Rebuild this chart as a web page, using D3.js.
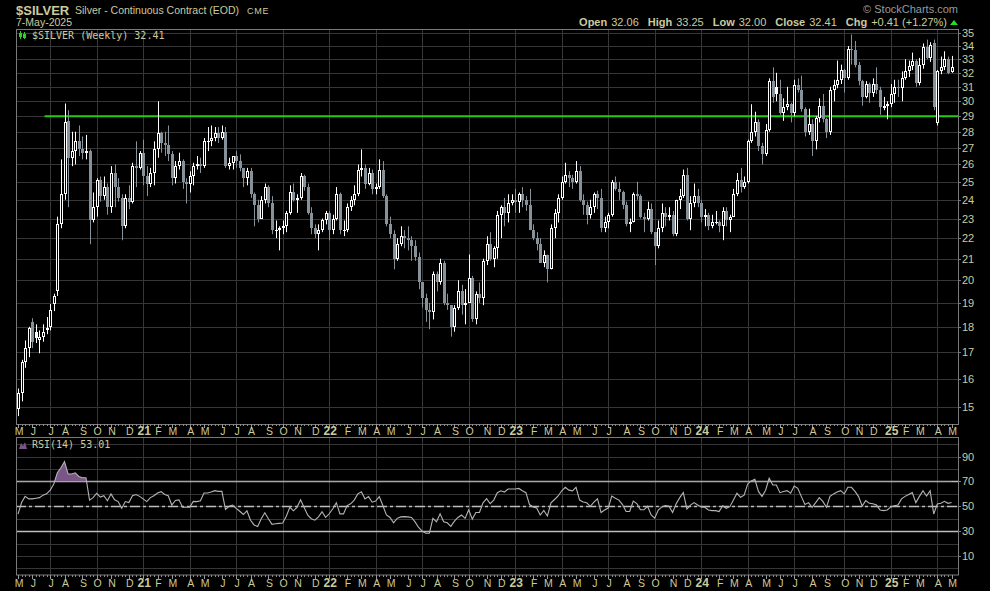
<!DOCTYPE html>
<html>
<head>
<meta charset="utf-8">
<script src="https://cdn.jsdelivr.net/npm/d3@7"></script>
<style>
  body { margin: 0; background: #000; }
  svg { display: block; }
  text { font-family: "Liberation Sans", Arial, sans-serif; }
</style>
</head>
<body>
<div id="chart"></div>
<script>
// weekly bars, one per week (Monday dated), May 2020 -> May 2025
var firstWeek = new Date(2020, 4, 4);
var lastWeek = new Date(2025, 4, 5);

var opens = [
  14.95, 15.50, 16.60, 17.15, 18.20, 17.80, 17.45, 17.60, 17.85, 18.00,
  18.95, 19.50, 22.70, 24.30, 28.70, 26.40, 26.80, 27.40, 26.90, 26.70,
  26.80, 22.90, 23.60, 25.10, 24.20, 24.70, 23.60, 25.50, 24.70, 24.10,
  22.60, 24.10, 23.90, 25.90, 25.80, 26.70, 25.30, 24.90, 25.50, 26.90,
  27.90, 27.30, 27.20, 26.60, 25.20, 25.90, 26.20, 25.00, 24.90, 25.30,
  25.90, 26.00, 25.90, 27.40, 27.40, 27.60, 27.90, 27.60, 28.00, 25.90,
  26.10, 26.50, 26.20, 25.80, 25.20, 25.60, 24.30, 23.70, 23.00, 24.00,
  24.70, 23.80, 22.40, 22.40, 22.50, 22.60, 23.30, 24.40, 24.00, 24.10,
  25.30, 24.70, 23.30, 22.50, 22.20, 22.40, 22.90, 23.30, 22.40, 23.00,
  24.30, 22.40, 22.40, 23.60, 24.00, 24.30, 25.70, 25.80, 24.90, 25.50,
  24.60, 24.70, 25.70, 24.20, 22.70, 22.20, 21.00, 21.70, 22.10, 22.00,
  21.90, 21.60, 21.10, 19.90, 19.20, 18.70, 18.60, 20.30, 19.90, 20.80,
  19.00, 18.90, 18.00, 18.80, 19.50, 18.90, 19.00, 20.10, 18.30, 19.40,
  19.20, 20.90, 21.70, 21.00, 21.50, 23.20, 23.60, 23.30, 23.80, 24.00,
  23.90, 24.30, 24.00, 23.70, 22.40, 22.00, 21.70, 20.80, 21.20, 20.50,
  22.50, 23.30, 24.10, 25.00, 25.40, 25.20, 25.00, 25.60, 24.00, 23.70,
  23.20, 23.60, 24.30, 24.10, 22.50, 22.80, 23.20, 25.00, 24.60, 24.40,
  23.70, 22.70, 22.80, 24.30, 24.20, 23.10, 23.00, 23.50, 22.30, 21.60,
  22.50, 23.30, 23.10, 23.20, 22.20, 24.00, 24.20, 25.40, 23.00, 23.80,
  24.20, 23.80, 23.10, 23.20, 22.60, 22.80, 22.80, 22.60, 23.40, 22.90,
  23.10, 24.30, 25.10, 24.70, 25.00, 27.40, 28.00, 28.60, 27.10, 26.60,
  28.10, 31.40, 31.00, 30.50, 29.20, 29.60, 29.80, 29.20, 31.10, 30.80,
  29.50, 28.00, 28.50, 27.40, 28.90, 29.70, 28.80, 28.00, 30.80, 31.10,
  31.50, 32.20, 31.60, 33.80, 33.70, 32.60, 31.40, 30.30, 31.20, 30.60,
  31.20, 30.80, 29.60, 29.70, 29.80, 30.50, 31.00, 30.90, 31.60, 32.10,
  32.50, 32.90, 31.30, 32.60, 33.90, 33.10, 34.20, 28.55, 32.10, 32.40,
  33.00, 32.06
];
var highs = [
  15.65, 16.70, 17.45, 18.00, 18.35, 18.10, 17.85, 18.10, 18.40, 18.95,
  19.40, 23.10, 26.30, 29.85, 29.40, 28.00, 28.00, 28.40, 27.70, 27.80,
  26.90, 24.40, 25.20, 25.30, 25.30, 24.90, 25.90, 26.00, 25.20, 24.30,
  24.30, 24.80, 26.10, 27.40, 26.80, 27.50, 25.90, 25.80, 27.40, 30.00,
  28.00, 28.00, 28.40, 26.80, 26.20, 26.70, 26.30, 25.20, 25.60, 26.10,
  26.50, 26.40, 27.60, 28.30, 28.40, 28.30, 28.30, 28.40, 28.30, 26.40,
  26.50, 26.80, 26.60, 25.80, 25.80, 25.80, 24.40, 24.00, 24.20, 24.90,
  24.80, 24.20, 22.90, 22.60, 22.90, 23.40, 24.80, 24.90, 24.30, 25.50,
  25.40, 24.90, 23.60, 22.70, 22.70, 23.00, 23.40, 23.40, 23.20, 24.70,
  24.40, 22.90, 23.80, 24.20, 24.80, 26.00, 26.90, 26.00, 25.80, 25.70,
  24.90, 26.30, 26.20, 24.30, 23.10, 22.40, 22.00, 22.60, 22.40, 22.60,
  22.10, 21.90, 21.30, 19.90, 19.40, 19.00, 20.40, 20.40, 21.00, 20.90,
  19.40, 18.90, 18.90, 20.00, 19.80, 19.60, 21.20, 20.20, 19.50, 19.90,
  21.00, 22.10, 22.30, 21.60, 23.40, 23.70, 24.10, 24.30, 24.30, 24.60,
  24.40, 24.70, 24.20, 24.60, 22.70, 22.30, 22.00, 21.40, 21.20, 22.70,
  23.50, 24.30, 25.30, 26.10, 25.60, 25.40, 26.20, 25.90, 24.30, 23.90,
  24.00, 24.40, 24.50, 24.60, 23.10, 23.30, 25.10, 25.30, 25.00, 24.50,
  23.90, 23.00, 24.40, 25.00, 24.30, 23.30, 23.90, 23.80, 22.30, 22.90,
  23.80, 23.60, 23.60, 23.40, 24.00, 24.60, 25.70, 25.80, 24.20, 24.90,
  24.60, 24.00, 23.50, 23.30, 23.20, 23.40, 22.90, 23.60, 23.60, 23.20,
  24.60, 25.50, 25.80, 25.30, 27.50, 29.80, 29.30, 28.80, 27.30, 28.50,
  31.60, 32.40, 32.00, 31.50, 30.20, 31.00, 29.90, 31.50, 31.60, 31.80,
  29.60, 29.50, 28.80, 29.00, 30.20, 30.50, 28.90, 31.00, 31.50, 32.90,
  32.60, 32.30, 34.00, 34.90, 34.40, 32.80, 31.50, 31.40, 31.30, 31.60,
  32.40, 31.00, 30.30, 30.00, 31.20, 31.50, 31.50, 32.10, 33.00, 32.90,
  33.50, 33.00, 33.10, 34.20, 34.50, 34.30, 34.50, 32.20, 33.20, 33.60,
  33.20, 33.25
];
var lows = [
  14.70, 15.20, 16.40, 16.80, 17.15, 17.35, 16.95, 17.40, 17.70, 17.85,
  18.65, 19.30, 22.50, 24.00, 23.60, 25.90, 26.00, 26.50, 26.30, 26.30,
  21.70, 22.80, 23.10, 23.90, 24.00, 23.20, 23.30, 23.60, 23.90, 21.90,
  22.50, 23.50, 23.80, 24.70, 25.70, 24.80, 24.20, 24.70, 24.80, 26.40,
  26.70, 26.50, 26.20, 24.80, 24.90, 25.70, 24.60, 23.80, 24.40, 24.80,
  25.70, 25.50, 25.80, 26.80, 27.10, 27.40, 27.30, 27.50, 25.80, 25.70,
  25.70, 25.80, 25.60, 24.70, 24.80, 24.10, 22.60, 22.80, 23.00, 23.80,
  23.60, 22.20, 22.00, 21.40, 22.20, 22.30, 23.20, 23.90, 23.30, 24.00,
  24.50, 23.20, 22.20, 22.00, 21.40, 22.30, 22.70, 21.90, 22.20, 22.90,
  22.20, 22.10, 22.30, 23.40, 23.70, 24.20, 25.30, 24.60, 24.80, 24.30,
  24.30, 24.60, 24.10, 22.60, 22.00, 20.50, 20.90, 21.60, 21.50, 21.40,
  20.90, 20.90, 19.60, 18.80, 18.20, 17.90, 18.30, 19.50, 19.80, 18.90,
  18.70, 17.60, 17.80, 18.70, 18.50, 18.10, 19.00, 18.20, 18.10, 19.00,
  18.90, 20.70, 20.90, 20.60, 21.00, 22.00, 22.60, 22.80, 23.70, 23.30,
  23.30, 23.60, 23.40, 22.40, 21.90, 21.40, 20.80, 20.60, 19.90, 20.50,
  22.00, 22.80, 24.00, 24.90, 24.70, 24.60, 24.90, 23.90, 23.20, 22.70,
  23.00, 23.30, 23.50, 22.30, 22.30, 22.50, 23.10, 24.50, 24.00, 23.50,
  22.60, 22.30, 22.80, 24.00, 23.00, 22.30, 22.90, 22.20, 20.70, 21.50,
  22.30, 22.60, 22.90, 22.10, 22.10, 23.50, 24.10, 22.90, 22.40, 23.60,
  23.60, 22.80, 22.60, 22.40, 22.50, 22.70, 22.30, 21.90, 22.60, 22.30,
  23.10, 24.20, 24.40, 24.60, 24.90, 27.30, 27.70, 26.80, 26.00, 26.50,
  28.00, 29.90, 30.00, 29.10, 28.70, 29.40, 28.60, 29.00, 30.60, 29.30,
  27.70, 27.80, 26.50, 26.90, 28.60, 28.60, 27.60, 27.80, 30.00, 30.90,
  31.20, 30.60, 31.50, 32.60, 32.40, 31.10, 29.70, 30.20, 29.90, 30.30,
  30.50, 29.10, 29.40, 28.80, 29.60, 29.90, 30.30, 30.00, 31.50, 31.70,
  32.20, 31.00, 31.10, 32.30, 33.00, 32.80, 29.40, 28.40, 31.90, 32.20,
  31.90, 32.00
];
var closes = [
  15.50, 16.60, 17.15, 17.95, 17.40, 17.55, 17.60, 17.80, 17.95, 18.70,
  19.30, 22.70, 24.30, 28.60, 26.40, 26.80, 27.40, 26.90, 26.70, 26.80,
  22.90, 23.60, 25.10, 24.20, 24.70, 23.60, 25.50, 24.70, 24.10, 22.60,
  24.10, 23.90, 25.90, 25.80, 26.70, 25.30, 24.90, 25.50, 26.90, 27.90,
  27.30, 27.20, 26.60, 25.20, 25.90, 26.20, 25.00, 24.90, 25.30, 25.90,
  26.00, 25.90, 27.40, 27.40, 27.60, 27.90, 27.60, 28.00, 25.90, 26.10,
  26.50, 26.20, 25.80, 25.20, 25.60, 24.30, 23.70, 23.00, 24.00, 24.70,
  23.80, 22.40, 22.40, 22.50, 22.60, 23.30, 24.40, 24.00, 24.10, 25.30,
  24.70, 23.30, 22.50, 22.20, 22.40, 22.90, 23.30, 22.40, 23.00, 24.30,
  22.40, 22.40, 23.60, 24.00, 24.30, 25.70, 25.80, 24.90, 25.50, 24.60,
  24.70, 25.70, 24.20, 22.70, 22.20, 21.00, 21.70, 22.10, 22.00, 21.90,
  21.60, 21.10, 19.90, 19.20, 18.70, 18.60, 20.30, 19.90, 20.80, 19.00,
  18.90, 18.00, 18.80, 19.50, 18.90, 19.00, 20.10, 18.30, 19.40, 19.20,
  20.90, 21.70, 21.00, 21.50, 23.20, 23.60, 23.30, 23.80, 24.00, 23.90,
  24.30, 24.00, 23.70, 22.40, 22.00, 21.70, 20.80, 21.20, 20.50, 22.50,
  23.30, 24.10, 25.00, 25.40, 25.20, 25.00, 25.60, 24.00, 23.70, 23.20,
  23.60, 24.30, 24.10, 22.50, 22.80, 23.20, 25.00, 24.60, 24.40, 23.70,
  22.70, 22.80, 24.30, 24.20, 23.10, 23.00, 23.50, 22.30, 21.60, 22.50,
  23.30, 23.10, 23.20, 22.20, 24.00, 24.20, 25.40, 23.00, 23.80, 24.20,
  23.80, 23.10, 23.20, 22.60, 22.80, 22.80, 22.60, 23.40, 22.90, 23.10,
  24.30, 25.10, 24.70, 25.00, 27.40, 28.00, 28.60, 27.10, 26.60, 28.10,
  31.40, 30.30, 30.50, 29.20, 29.60, 29.80, 29.20, 31.10, 30.80, 29.50,
  28.00, 28.50, 27.40, 28.90, 29.70, 28.80, 28.00, 30.80, 31.10, 31.50,
  32.20, 31.60, 33.80, 33.70, 32.60, 31.40, 30.30, 31.20, 30.60, 31.20,
  30.80, 29.60, 29.70, 29.80, 30.50, 31.00, 30.90, 31.60, 32.10, 32.50,
  32.90, 31.30, 32.60, 33.90, 33.10, 34.10, 29.60, 32.10, 32.40, 33.00,
  32.00, 32.41
];
var rsi = [
  43.7, 53, 58, 56, 56, 56.5, 57, 59, 60, 63,
  68, 77, 81, 86, 76, 76, 77, 74, 73, 73,
  55, 57, 60.5, 57.4, 58.5, 54.5, 60, 55.2, 53.8, 48.4,
  53.8, 53, 58.5, 59.5, 58, 56, 53.8, 57, 58.5, 60.7,
  61.8, 59.5, 58.5, 51, 54.7, 55.2, 49.2, 49.2, 49.2, 54,
  53.8, 54.5, 60.7, 60.7, 61.5, 62.6, 62, 62, 47.5, 50,
  51, 48.4, 46, 43.4, 46.4, 38.8, 35, 33.8, 40, 44.8,
  40, 35.5, 36, 36.3, 36.6, 42, 49.2, 46.4, 49.2, 55.2,
  49, 42.9, 40, 38.8, 41.5, 45.7, 41.1, 44, 48, 52.8,
  43.9, 43.9, 50.6, 52, 55, 60, 61.7, 56, 57.8, 53.3,
  54.2, 57.8, 50.6, 43, 41, 36.7, 40.3, 41.5, 41.7, 41.5,
  41, 37.5, 33, 30, 28.3, 28.3, 40.3, 37.5, 43.9, 37.5,
  36.7, 33.9, 38, 41, 43, 40.3, 47.2, 39.7, 45, 45,
  52.8, 56.1, 52.2, 55, 61, 62.5, 61.5, 63.9, 63.9, 63.9,
  64.4, 62.5, 61, 51.4, 49.5, 48.6, 43, 46.7, 42.2, 52.8,
  55.5, 58.3, 62.5, 65.3, 63, 62.5, 65.3, 55, 53.5, 52.8,
  50, 53.3, 56.1, 45, 47, 48.6, 58.3, 56.5, 55, 51.4,
  45.8, 45.8, 54.2, 52.2, 47.2, 47.2, 50, 43, 40.5, 47,
  49.5, 50.6, 50, 45, 52, 57, 61, 47.8, 51, 53,
  51, 49.5, 49.2, 47, 46.5, 46.5, 45.7, 50.5, 48.4, 49.7,
  55, 60.5, 57.3, 59, 68, 70.5, 71.8, 62, 58, 63,
  72.6, 67.2, 67.2, 61, 62, 62.6, 60.5, 66.4, 64.5, 57.8,
  51.5, 53, 49.2, 53, 57, 54, 49.2, 58, 60, 61.5,
  62.6, 60, 65.3, 65.3, 62, 57.8, 50.3, 54.6, 52.4, 52,
  51, 47, 46.5, 47, 49.5, 50.5, 51, 56, 58, 59.5,
  61, 53, 58, 62.6, 58.3, 62.6, 43.8, 51.9, 52.5, 54,
  52.4, 53.01
];

var priceTicks = [15, 16, 17, 18, 19, 20, 21, 22, 23, 24, 25, 26, 27, 28, 29, 30, 31, 32, 33, 34, 35];
var rsiGrid = [0, 10, 20, 30, 40, 50, 60, 70, 80, 90, 100];
var rsiTicks = [10, 30, 50, 70, 90];
var monthLetters = ["J", "F", "M", "A", "M", "J", "J", "A", "S", "O", "N", "D"];
var supportLevel = 29;
var supportStart = new Date(2020, 5, 25);
var quoteLabels = ["Open", "High", "Low", "Close", "Chg"];
var quoteValues = ["32.06", "33.25", "32.00", "32.41", "+0.41 (+1.27%)"];

var width = 990, height = 591;
var khaki = "#cbcb9e";
var gridColor = "#363636";
var frameColor = "#7a7a7a";
var grayCandle = "#86919a";

var left = 16, right = 958;
var pTop = 29, pBottom = 424;
var rTop = 437.5, rBottom = 575;

var weeks = d3.timeMonday.range(firstWeek, d3.timeDay.offset(lastWeek, 1)).slice(0, closes.length);

var svg = d3.select("#chart").append("svg")
  .attr("width", width)
  .attr("height", height)
  .style("background", "#000");

var x = d3.scaleTime().domain([weeks[0], weeks[weeks.length - 1]]).range([18, 951.6]);
var y = d3.scaleLog().domain([14.44, 35.34]).range([pBottom, pTop]);
var yr = d3.scaleLinear().domain([-5.3, 105.4]).range([rBottom, rTop]);

// month starts and quarter grid
var monthStarts = weeks.filter(function (d, i) {
  return i === 0 || d.getMonth() !== weeks[i - 1].getMonth();
});
var quarterStarts = monthStarts.filter(function (d, i) {
  return i > 0 && d.getMonth() % 3 === 0;
});

function px(v) { return Math.round(v) + 0.5; }

// ---------- price panel ----------
var price = svg.append("g");

price.selectAll(".hgrid").data(priceTicks).join("line")
  .attr("x1", left).attr("x2", right)
  .attr("y1", d => px(y(d))).attr("y2", d => px(y(d)))
  .attr("stroke", gridColor);

price.selectAll(".vgrid").data(quarterStarts).join("line")
  .attr("x1", d => px(x(d))).attr("x2", d => px(x(d)))
  .attr("y1", pTop).attr("y2", pBottom)
  .attr("stroke", gridColor);

// support line
price.append("line")
  .attr("x1", x(supportStart)).attr("x2", right)
  .attr("y1", y(supportLevel)).attr("y2", y(supportLevel))
  .attr("stroke", "#22cc11")
  .attr("stroke-width", 2);

var bars = closes.map(function (c, i) {
  return { date: weeks[i], o: opens[i], h: highs[i], l: lows[i], c: c, prev: i ? closes[i - 1] : opens[i] };
});

var candles = price.selectAll(".candle").data(bars).join("g");

candles.append("line")
  .attr("x1", d => Math.round(x(d.date)) + 0.5)
  .attr("x2", d => Math.round(x(d.date)) + 0.5)
  .attr("y1", d => y(d.h)).attr("y2", d => y(d.l))
  .attr("stroke", d => d.c >= d.prev ? "#fff" : grayCandle);

candles.append("rect")
  .each(function (d) {
    var cx = Math.round(x(d.date));
    var top = Math.round(y(Math.max(d.o, d.c)));
    var bot = Math.round(y(Math.min(d.o, d.c)));
    var col = d.c >= d.prev ? "#fff" : grayCandle;
    var r = d3.select(this);
    if (d.c > d.o) {
      r.attr("x", cx - 0.5).attr("y", top + 0.5)
        .attr("width", 2).attr("height", Math.max(1, bot - top - 1))
        .attr("fill", "#000").attr("stroke", col);
    } else {
      r.attr("x", cx - 1).attr("y", top)
        .attr("width", 3).attr("height", Math.max(1, bot - top))
        .attr("fill", col);
    }
  });

price.append("rect")
  .attr("x", left + 0.5).attr("y", pTop + 0.5)
  .attr("width", right - left).attr("height", pBottom - pTop)
  .attr("fill", "none").attr("stroke", frameColor);

price.selectAll(".plab").data(priceTicks).join("text")
  .attr("x", 962).attr("y", d => y(d) + 4)
  .attr("fill", khaki)
  .style("font-size", "11px")
  .text(d => d);

price.selectAll(".ptick").data(priceTicks).join("line")
  .attr("x1", right).attr("x2", right + 3)
  .attr("y1", d => px(y(d))).attr("y2", d => px(y(d)))
  .attr("stroke", frameColor);

// legend
var icon = price.append("g").attr("stroke", "#3c3");
icon.append("line").attr("x1", 20.5).attr("x2", 20.5).attr("y1", 31).attr("y2", 39);
icon.append("rect").attr("x", 19.5).attr("y", 33.5).attr("width", 2).attr("height", 3).attr("fill", "#3c3");
icon.append("line").attr("x1", 24.5).attr("x2", 24.5).attr("y1", 32).attr("y2", 39);
icon.append("rect").attr("x", 23.5).attr("y", 34.5).attr("width", 2).attr("height", 3).attr("fill", "none");
price.append("text")
  .attr("x", 32).attr("y", 39)
  .attr("fill", khaki)
  .style("font-family", "'DejaVu Sans Mono', monospace")
  .style("font-size", "10px")
  .text("$SILVER (Weekly) " + closes[closes.length - 1].toFixed(2));

// ---------- RSI panel ----------
var rp = svg.append("g");

rp.selectAll(".rgrid").data(rsiGrid).join("line")
  .attr("x1", left).attr("x2", right)
  .attr("y1", d => px(yr(d))).attr("y2", d => px(yr(d)))
  .attr("stroke", gridColor);

rp.selectAll(".rvgrid").data(quarterStarts).join("line")
  .attr("x1", d => px(x(d))).attr("x2", d => px(x(d)))
  .attr("y1", rTop).attr("y2", rBottom)
  .attr("stroke", gridColor);

rp.selectAll(".lvl").data([30, 70]).join("line")
  .attr("x1", left).attr("x2", right)
  .attr("y1", d => px(yr(d))).attr("y2", d => px(yr(d)))
  .attr("stroke", "#bdbdbd").attr("stroke-width", 1.3);

rp.append("line")
  .attr("x1", left).attr("x2", right)
  .attr("y1", px(yr(50))).attr("y2", px(yr(50)))
  .attr("stroke", "#bdbdbd").attr("stroke-width", 1.3)
  .attr("stroke-dasharray", "10,3,3,3");

svg.append("clipPath").attr("id", "ob")
  .append("rect").attr("x", left).attr("y", rTop)
  .attr("width", right - left).attr("height", yr(70) - rTop);

var rsiPts = rsi.map(function (v, i) { return { date: weeks[i], v: v }; });

rp.append("path")
  .datum(rsiPts)
  .attr("clip-path", "url(#ob)")
  .attr("fill", "#7a5587")
  .attr("d", d3.area().x(d => x(d.date)).y0(yr(70)).y1(d => yr(d.v)));

rp.append("path")
  .datum(rsiPts)
  .attr("fill", "none")
  .attr("stroke", "#b4b4b4")
  .attr("stroke-width", 1.1)
  .attr("d", d3.line().x(d => x(d.date)).y(d => yr(d.v)));

rp.append("rect")
  .attr("x", left + 0.5).attr("y", rTop)
  .attr("width", right - left).attr("height", rBottom - rTop)
  .attr("fill", "none").attr("stroke", frameColor);

rp.selectAll(".rlab").data(rsiTicks).join("text")
  .attr("x", 962).attr("y", d => yr(d) + 4)
  .attr("fill", khaki)
  .style("font-size", "11px")
  .text(d => d);

rp.selectAll(".rtick").data(rsiTicks).join("line")
  .attr("x1", right).attr("x2", right + 3)
  .attr("y1", d => px(yr(d))).attr("y2", d => px(yr(d)))
  .attr("stroke", frameColor);

rp.append("path")
  .attr("d", "M19,449 L21,443 L23,446 L25,442 L27,449 Z")
  .attr("fill", "#7a5587");
rp.append("text")
  .attr("x", 32).attr("y", 448)
  .attr("fill", khaki)
  .style("font-family", "'DejaVu Sans Mono', monospace")
  .style("font-size", "10px")
  .text("RSI(14) " + rsi[rsi.length - 1].toFixed(2));

// ---------- date axes ----------
function dateAxis(axisY, labelY) {
  var g = svg.append("g");
  g.selectAll(".wt").data(weeks).join("line")
    .attr("x1", d => px(x(d))).attr("x2", d => px(x(d)))
    .attr("y1", axisY).attr("y2", axisY + 2)
    .attr("stroke", "#8a8a8a");
  g.selectAll(".mt").data(monthStarts).join("line")
    .attr("x1", d => px(x(d))).attr("x2", d => px(x(d)))
    .attr("y1", axisY).attr("y2", axisY + 4)
    .attr("stroke", "#9a9a9a");
  g.selectAll(".ml").data(monthStarts).join("text")
    .attr("x", d => x(d) + 1)
    .attr("y", labelY)
    .attr("text-anchor", "middle")
    .attr("fill", khaki)
    .style("font-size", d => d.getMonth() === 0 ? "12px" : "10.5px")
    .style("font-weight", d => d.getMonth() === 0 ? "bold" : "normal")
    .text(d => d.getMonth() === 0 ? String(d.getFullYear()).slice(2) : monthLetters[d.getMonth()]);
}
dateAxis(pBottom, 435);
dateAxis(rBottom, 587);

// ---------- header ----------
svg.append("text").attr("x", 16).attr("y", 14.5)
  .attr("fill", khaki)
  .style("font-size", "13px").style("font-weight", "bold")
  .text("$SILVER");
svg.append("text").attr("x", 75).attr("y", 14)
  .attr("fill", khaki)
  .style("font-size", "10.5px")
  .text("Silver - Continuous Contract (EOD)");
svg.append("text").attr("x", 247).attr("y", 14)
  .attr("fill", khaki)
  .style("font-size", "9px")
  .style("letter-spacing", "0.8px")
  .text("CME");
svg.append("text").attr("x", 16).attr("y", 26)
  .attr("fill", khaki)
  .style("font-size", "10.5px")
  .text("7-May-2025");

svg.append("text").attr("x", 958).attr("y", 13)
  .attr("text-anchor", "end")
  .attr("fill", "#9a9a9a")
  .style("font-size", "11px")
  .text("\u00A9 StockCharts.com");

var quote = svg.append("text").attr("x", 947).attr("y", 26)
  .attr("text-anchor", "end")
  .attr("fill", khaki)
  .style("font-size", "11px");
quoteLabels.forEach(function (lab, i) {
  quote.append("tspan").attr("dx", i ? 9 : 0).style("font-weight", "bold").text(lab);
  quote.append("tspan").attr("dx", 4).text(quoteValues[i]);
});
svg.append("path")
  .attr("d", "M950,25 L954,20 L958,25 Z")
  .attr("fill", "#22dd22");
</script>
</body>
</html>
